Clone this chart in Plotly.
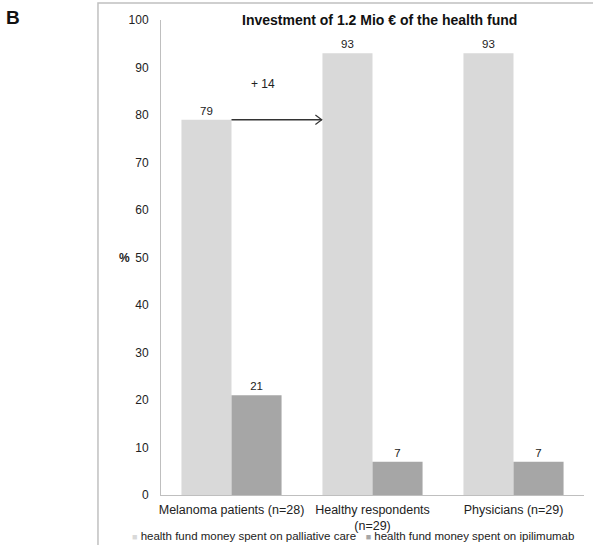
import plotly.graph_objects as go

categories = ["Melanoma patients (n=28)", "Healthy respondents<br>(n=29)", "Physicians (n=29)"]
palliative = [79, 93, 93]
ipilimumab = [21, 7, 7]
series_names = ["health fund money spent on palliative care", "health fund money spent on ipilimumab"]
series_colors = ["#d9d9d9", "#a6a6a6"]
y_ticks = list(range(0, 101, 10))
title_text = "Investment of 1.2 Mio € of the health fund"
diff_label = "+ 14"

xi = list(range(len(categories)))

fig = go.Figure()
for vals, name, col in zip([palliative, ipilimumab], series_names, series_colors):
    fig.add_trace(go.Bar(x=xi, y=vals, name=name, marker=dict(color=col, line=dict(width=0)),
                         text=vals, textposition="outside", textfont=dict(size=11.5, color="#222"),
                         cliponaxis=False, showlegend=False))

fig.update_layout(
    width=593, height=545,
    margin=dict(l=161, r=9, t=20, b=50),
    paper_bgcolor="white", plot_bgcolor="white",
    font=dict(family="Arial, Liberation Sans, sans-serif", size=12, color="#222"),
    barmode="group", bargap=0.29, bargroupgap=0,
    showlegend=False,
    xaxis=dict(range=[-0.5, 2.5], tickmode="array", tickvals=xi, ticktext=categories,
               showline=True, linecolor="#bfbfbf", linewidth=1, ticks="", showgrid=False, zeroline=False,
               tickfont=dict(size=12.5), ticklabelstandoff=3),
    yaxis=dict(range=[0, 100], tickmode="array", tickvals=y_ticks, showline=True, linecolor="#bfbfbf",
               linewidth=1, ticks="", showgrid=False, zeroline=False, ticklabelstandoff=9,
               tickfont=dict(size=12)),
)

# arrow from melanoma palliative bar to healthy palliative bar, at melanoma value
x0, x1 = 0.0, 0.64
yv = palliative[0]
fig.add_shape(type="line", xref="x", yref="y", x0=x0, x1=x1, y0=yv, y1=yv, line=dict(color="#333", width=1.3))
fig.add_shape(type="path", xref="x", yref="y",
              path=f"M {x1-0.045},{yv+1.0} L {x1},{yv} L {x1-0.045},{yv-1.0}", line=dict(color="#333", width=1.2))
fig.add_annotation(x=0.22, y=86.5, xref="x", yref="y", text=diff_label, showarrow=False, font=dict(size=12))

# title
fig.add_annotation(x=0.516, y=1.0, xref="paper", yref="paper", text=f"<b>{title_text}</b>", showarrow=False,
                   font=dict(size=14, color="#111"), yanchor="middle")
# y label
fig.add_annotation(x=-0.105, y=50, xref="paper", yref="y", text="<b>%</b>", showarrow=False, font=dict(size=12))
# panel letter
fig.add_annotation(x=-0.371, y=1.006, xref="paper", yref="paper", text="<b>B</b>", showarrow=False,
                   font=dict(size=19, color="#111"), xanchor="left", yanchor="middle")
# legend (compact, as in the original)
legend_html = "   ".join(
    f"<span style='color:{c};font-size:9px'>■</span> {n}"
    for n, c in zip(series_names, series_colors)
)
fig.add_annotation(x=-0.073, y=-0.086, xref="paper", yref="paper", text=legend_html, showarrow=False,
                   xanchor="left", yanchor="middle", font=dict(size=11.5, color="#222"))
# frame
fig.add_shape(type="rect", xref="paper", yref="paper", x0=-0.149, x1=1.1, y0=-0.2, y1=1.0358,
              line=dict(color="#c0c0c0", width=1.5), layer="below")

fig.write_html("out.html")
